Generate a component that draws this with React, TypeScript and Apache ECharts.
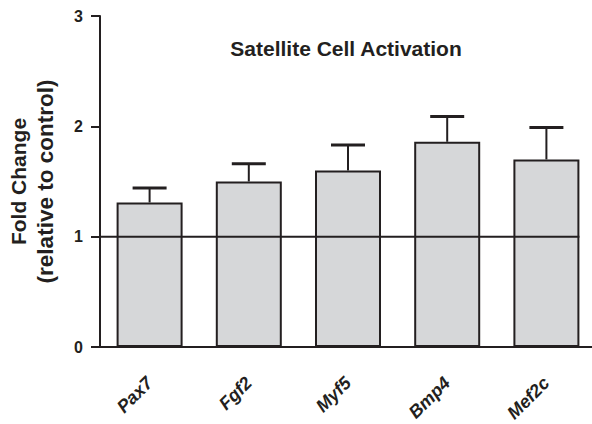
import React, { useEffect, useRef } from "react";
import * as echarts from "echarts";

const categories = ["Pax7", "Fgf2", "Myf5", "Bmp4", "Mef2c"];
const means = [1.31, 1.5, 1.6, 1.86, 1.7];
const upperErrors = [0.13, 0.16, 0.23, 0.23, 0.29];
const yTicks = [0, 1, 2, 3];
const referenceValue = 1;
const titleText = "Satellite Cell Activation";
const yAxisTitleLines = ["Fold Change", "(relative to control)"];

const INK = "#231f20";
const FONT = "Arial, 'Liberation Sans', sans-serif";
const BAR_W = 66;

export default function App() {
  const ref = useRef<HTMLDivElement>(null);
  useEffect(() => {
    if (!ref.current) return;
    const chart = echarts.init(ref.current, undefined, { renderer: "svg" });
    const errData = categories.map((_, i) => [i, means[i], means[i] + upperErrors[i]]);
    chart.setOption({
      animation: false,
      backgroundColor: "#ffffff",
      title: {
        text: titleText,
        left: 341,
        top: 33,
        textAlign: "center",
        textStyle: { fontFamily: FONT, fontSize: 21, fontWeight: "bold", color: INK },
      },
      grid: { left: 100, top: 16, width: 496, height: 331, containLabel: false, outerBoundsMode: "none" },
      xAxis: {
        type: "category",
        data: categories,
        axisLine: { lineStyle: { color: INK, width: 2 } },
        axisTick: { alignWithLabel: true, length: 9, lineStyle: { color: INK, width: 2 } },
        axisLabel: {
          rotate: 45,
          margin: 33,
          interval: 0,
          fontFamily: FONT,
          fontSize: 18,
          fontWeight: "bold",
          fontStyle: "italic",
          color: INK,
        },
      },
      yAxis: {
        type: "value",
        min: yTicks[0],
        max: yTicks[yTicks.length - 1],
        interval: 1,
        splitLine: { show: false },
        axisLine: { show: true, lineStyle: { color: INK, width: 2 } },
        axisTick: { show: true, length: 9, lineStyle: { color: INK, width: 2 } },
        axisLabel: { margin: 17, fontFamily: FONT, fontSize: 16, fontWeight: "bold", color: INK },
        name: `{a|${yAxisTitleLines[0]}}\n{b|${yAxisTitleLines[1]}}`,
        nameLocation: "middle",
        nameRotate: 90,
        nameGap: 41,
        nameTextStyle: {
          fontFamily: FONT,
          fontWeight: "bold",
          color: INK,
          rich: {
            a: { fontFamily: FONT, fontSize: 21, fontWeight: "bold", color: INK, lineHeight: 27 },
            b: { fontFamily: FONT, fontSize: 22.5, fontWeight: "bold", color: INK, lineHeight: 27 },
          },
        },
      },
      series: [
        {
          type: "bar",
          data: means,
          barWidth: BAR_W,
          itemStyle: { color: "#d6d7d9", borderColor: INK, borderWidth: 2 },
          z: 2,
        },
        {
          type: "custom",
          z: 3,
          data: errData,
          renderItem: (params: any, api: any) => {
            const i = api.value(0);
            const top = api.coord([i, api.value(1)]);
            const up = api.coord([i, api.value(2)]);
            return {
              type: "group",
              children: [
                { type: "line", shape: { x1: top[0], y1: top[1], x2: up[0], y2: up[1] }, style: { stroke: INK, lineWidth: 2 } },
                { type: "line", shape: { x1: up[0] - 17, y1: up[1], x2: up[0] + 17, y2: up[1] }, style: { stroke: INK, lineWidth: 3 } },
              ],
            };
          },
        },
        {
          type: "custom",
          z: 4,
          data: [[0, referenceValue]],
          renderItem: (params: any, api: any) => {
            const band = api.size([1, 0])[0];
            const start = api.coord([0, api.value(1)]);
            const end = api.coord([categories.length - 1, api.value(1)]);
            return {
              type: "line",
              shape: { x1: start[0] - band / 2, y1: start[1], x2: end[0] + BAR_W / 2, y2: end[1] },
              style: { stroke: INK, lineWidth: 2 },
            };
          },
        },
      ],
    });
    return () => chart.dispose();
  }, []);
  return (
    <div
      ref={ref}
      style={{ position: "fixed", left: 0, top: 0, width: 592, height: 424, background: "#fff" }}
    />
  );
}
